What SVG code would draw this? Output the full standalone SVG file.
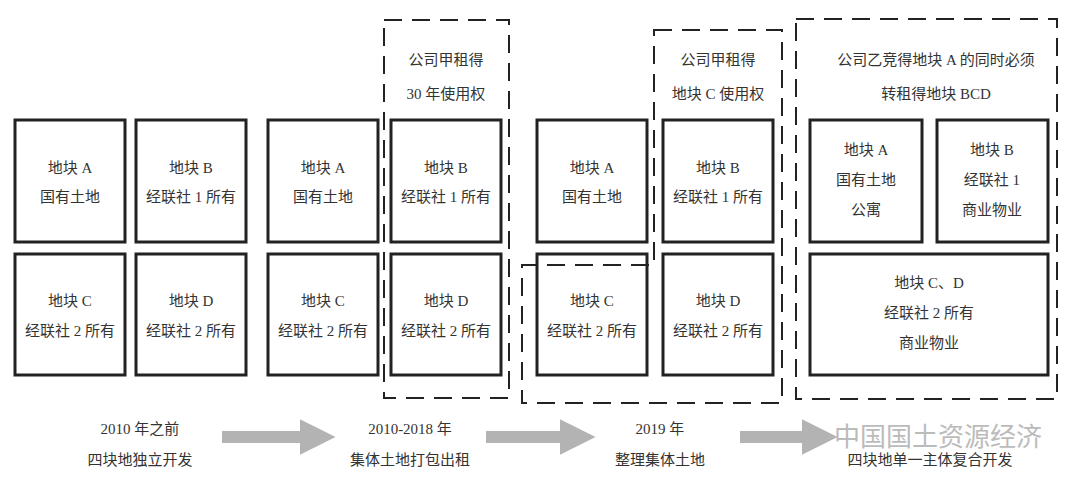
<svg xmlns="http://www.w3.org/2000/svg" width="1080" height="482" viewBox="0 0 1080 482">
<style>
text{font-family:"Liberation Serif","Noto Sans CJK SC",serif;font-size:15px;fill:#333;text-anchor:middle}
.b{fill:#fff;stroke:#222;stroke-width:3}
.d{fill:none;stroke:#222;stroke-width:2;stroke-dasharray:18,10}
.wm{font-family:"Noto Sans CJK SC",sans-serif;font-size:26px;fill:#bbb;text-anchor:start}
</style>
<defs><marker id="ah" markerWidth="3" markerHeight="3" refX="1.2" refY="1.5" orient="auto"><path d="M0,0L3,1.5L0,3z" fill="#b3b3b3"/></marker></defs>
<rect width="1080" height="482" fill="#fff"/>
<g id="connectors" stroke="#b3b3b3" stroke-width="12">
<line x1="222" y1="437" x2="314" y2="437" marker-end="url(#ah)"/>
<line x1="486" y1="437" x2="574" y2="437" marker-end="url(#ah)"/>
<line x1="740" y1="437" x2="816" y2="437" marker-end="url(#ah)"/>
</g>
<g id="p1">
<g id="p1a"><rect class="b" x="15" y="120" width="110" height="122"/><text x="70" y="173">地块 A</text><text x="70" y="202">国有土地</text></g>
<g id="p1b"><rect class="b" x="136" y="120" width="110" height="122"/><text x="191" y="173">地块 B</text><text x="191" y="202">经联社 1 所有</text></g>
<g id="p1c"><rect class="b" x="15" y="254" width="110" height="121"/><text x="70" y="306">地块 C</text><text x="70" y="336">经联社 2 所有</text></g>
<g id="p1d"><rect class="b" x="136" y="254" width="110" height="121"/><text x="191" y="306">地块 D</text><text x="191" y="336">经联社 2 所有</text></g>
</g>
<g id="p2">
<rect class="d" x="384" y="20" width="125" height="378"/>
<text x="446" y="65">公司甲租得</text><text x="446" y="99">30 年使用权</text>
<g id="p2a"><rect class="b" x="268" y="120" width="110" height="122"/><text x="323" y="173">地块 A</text><text x="323" y="202">国有土地</text></g>
<g id="p2b"><rect class="b" x="391" y="120" width="110" height="122"/><text x="446" y="173">地块 B</text><text x="446" y="202">经联社 1 所有</text></g>
<g id="p2c"><rect class="b" x="268" y="254" width="110" height="121"/><text x="323" y="306">地块 C</text><text x="323" y="336">经联社 2 所有</text></g>
<g id="p2d"><rect class="b" x="391" y="254" width="110" height="121"/><text x="446" y="306">地块 D</text><text x="446" y="336">经联社 2 所有</text></g>
</g>
<g id="p3">
<g id="p3a"><rect class="b" x="537" y="120" width="110" height="122"/><text x="592" y="173">地块 A</text><text x="592" y="202">国有土地</text></g>
<g id="p3b"><rect class="b" x="663" y="120" width="110" height="122"/><text x="718" y="173">地块 B</text><text x="718" y="202">经联社 1 所有</text></g>
<g id="p3c"><rect class="b" x="537" y="254" width="110" height="121"/><text x="592" y="306">地块 C</text><text x="592" y="336">经联社 2 所有</text></g>
<g id="p3d"><rect class="b" x="663" y="254" width="110" height="121"/><text x="718" y="306">地块 D</text><text x="718" y="336">经联社 2 所有</text></g>
<path class="d" d="M654,30H782V403H522V265H654Z"/>
<text x="718" y="65">公司甲租得</text><text x="718" y="99">地块 C 使用权</text>
</g>
<g id="p4">
<rect class="d" x="796" y="19" width="261" height="380"/>
<text x="936" y="65">公司乙竞得地块 A 的同时必须</text><text x="936" y="99">转租得地块 BCD</text>
<g id="p4a"><rect class="b" x="810" y="120" width="112" height="122"/><text x="866" y="155">地块 A</text><text x="866" y="185">国有土地</text><text x="866" y="215">公寓</text></g>
<g id="p4b"><rect class="b" x="937" y="120" width="111" height="122"/><text x="992" y="155">地块 B</text><text x="992" y="185">经联社 1</text><text x="992" y="215">商业物业</text></g>
<g id="p4cd"><rect class="b" x="810" y="254" width="238" height="121"/><text x="929" y="288">地块 C、D</text><text x="929" y="318">经联社 2 所有</text><text x="929" y="348">商业物业</text></g>
</g>
<g id="labels">
<text x="140" y="434">2010 年之前</text><text x="140" y="465">四块地独立开发</text>
<text x="410" y="434">2010-2018 年</text><text x="410" y="465">集体土地打包出租</text>
<text x="660" y="434">2019 年</text><text x="660" y="465">整理集体土地</text>
<text x="930" y="465">四块地单一主体复合开发</text>
<text class="wm" x="834" y="446">中国国土资源经济</text>
</g>
</svg>
